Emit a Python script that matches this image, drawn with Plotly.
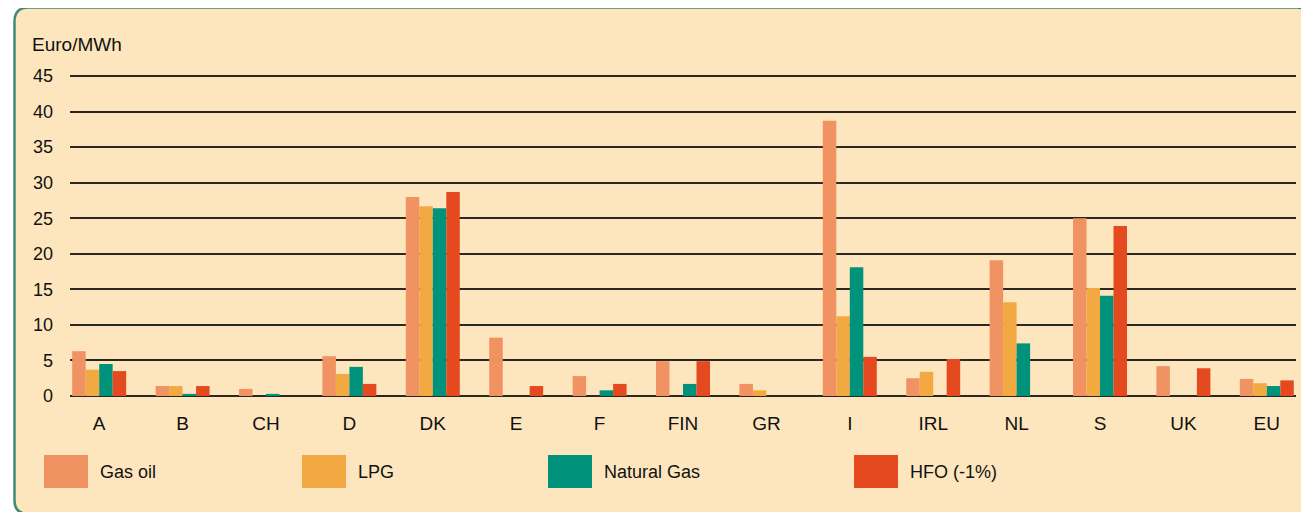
import plotly.graph_objects as go

categories = ["A", "B", "CH", "D", "DK", "E", "F", "FIN", "GR", "I", "IRL", "NL", "S", "UK", "EU"]
series_names = ["Gas oil", "LPG", "Natural Gas", "HFO (-1%)"]
gas_oil = [6.3, 1.4, 1.0, 5.6, 28.0, 8.2, 2.8, 4.9, 1.7, 38.7, 2.5, 19.1, 25.0, 4.2, 2.4]
lpg = [3.7, 1.4, None, 3.1, 26.7, None, None, None, 0.8, 11.2, 3.4, 13.2, 15.2, None, 1.8]
natural_gas = [4.5, 0.3, 0.3, 4.1, 26.4, None, 0.8, 1.7, None, 18.1, None, 7.4, 14.1, None, 1.4]
hfo = [3.5, 1.4, None, 1.7, 28.7, 1.4, 1.7, 4.9, None, 5.5, 5.2, None, 23.9, 3.9, 2.2]
y_ticks = [0, 5, 10, 15, 20, 25, 30, 35, 40, 45]

series_values = [gas_oil, lpg, natural_gas, hfo]
colors = ["#F09262", "#F2A942", "#00927A", "#E4491F"]

# the page body has an 8px margin; lay out in page pixels
OFF = 8
W, H = 1301, 504
L, R, T, B = 62, 13, 64, 116
PW, PH = W - L - R, H - T - B

def px(x):
    return (x - OFF - L) / PW

def py(y):
    return (H - B - (y - OFF)) / PH

FONT = "Liberation Sans, Arial, sans-serif"
fig = go.Figure()
for name, vals, col in zip(series_names, series_values, colors):
    fig.add_trace(go.Bar(x=categories, y=vals, name=name, marker=dict(color=col, line=dict(width=0)),
                         showlegend=False))

# rounded frame
x0, x1, y0, y1, r = 14.5, 1311, 7.5, 514, 14
path = (f"M {px(x0+r)},{py(y0)} L {px(x1-r)},{py(y0)} Q {px(x1)},{py(y0)} {px(x1)},{py(y0+r)} "
        f"L {px(x1)},{py(y1)} L {px(x0+r)},{py(y1)} Q {px(x0)},{py(y1)} {px(x0)},{py(y1-r)} "
        f"L {px(x0)},{py(y0+r)} Q {px(x0)},{py(y0)} {px(x0+r)},{py(y0)} Z")
shapes = [dict(type="path", xref="paper", yref="paper", path=path, fillcolor="#FDE6BD",
               line=dict(color="#3F8A78", width=2.5), layer="below")]

annotations = [dict(text="Euro/MWh", xref="paper", yref="paper", x=px(30), y=py(44),
                    xanchor="left", yanchor="middle", showarrow=False,
                    font=dict(family=FONT, size=19, color="#111111"))]

# custom legend with large swatches
legend_x = [44, 302, 548, 854]
for name, col, lx in zip(series_names, colors, legend_x):
    shapes.append(dict(type="rect", xref="paper", yref="paper", x0=px(lx), x1=px(lx + 44),
                       y0=py(488), y1=py(455), fillcolor=col, line=dict(width=0)))
    annotations.append(dict(text=name, xref="paper", yref="paper", x=px(lx + 54), y=py(472),
                            xanchor="left", yanchor="middle", showarrow=False,
                            font=dict(family=FONT, size=18, color="#111111")))

fig.update_layout(
    width=W, height=H, autosize=False,
    margin=dict(l=L, r=R, t=T, b=B),
    paper_bgcolor="white", plot_bgcolor="rgba(0,0,0,0)",
    barmode="group", bargap=0.353, bargroupgap=0,
    font=dict(family=FONT, color="#111111"),
    shapes=shapes, annotations=annotations,
    xaxis=dict(type="category", range=[-0.35, 14.35], showgrid=False, zeroline=False, showline=False,
               ticks="", tickfont=dict(size=19, color="#111111"), ticklabelstandoff=14, fixedrange=True),
    yaxis=dict(range=[0, 45.5625], tickvals=y_ticks, showgrid=True, gridcolor="#2B2822", gridwidth=2,
               zeroline=True, zerolinecolor="#2B2822", zerolinewidth=2, showline=False, ticks="",
               tickfont=dict(size=18, color="#111111"), ticklabelstandoff=16, fixedrange=True),
)

fig.write_html("out.html")
